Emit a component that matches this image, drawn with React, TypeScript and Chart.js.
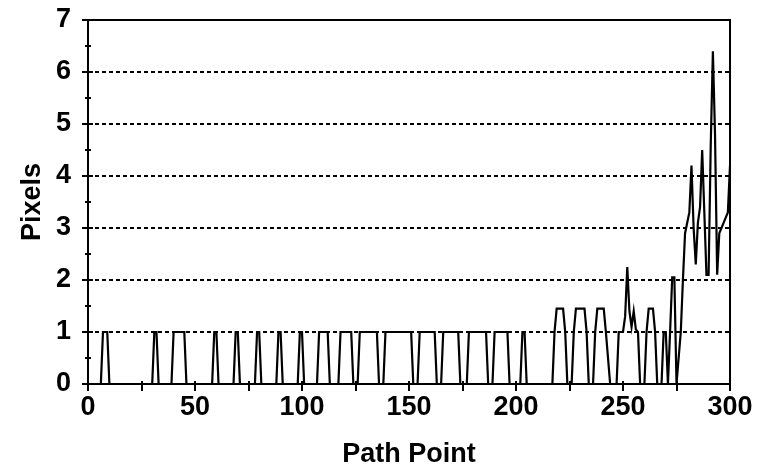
import React, { useEffect, useRef } from 'react';
import { Chart, registerables } from 'chart.js';

Chart.register(...registerables);

// Path point (x) and pixel deviation (y) vertices
const PATH_POINTS = [
  0, 6, 7, 9, 10,
  30, 31, 32, 33,
  39, 40, 45, 46,
  58, 59, 60, 61,
  68, 69, 70, 71,
  78, 79, 80, 81,
  88, 89, 90, 91,
  98, 99, 100, 101,
  107, 108, 112, 113,
  117, 118, 123, 124,
  126, 127, 135, 136,
  138, 139, 151, 152,
  154, 155, 162, 163,
  165, 166, 173, 174,
  177, 178, 186, 187,
  189, 190, 196, 197,
  202, 203, 204, 205,
  217, 218, 219, 222, 223, 224,
  226, 227, 228, 232, 233, 234,
  236, 237, 238, 241, 242, 244,
  247, 248, 250, 251, 252, 253, 254, 255, 256, 257, 258,
  260, 261, 262, 264, 265, 266,
  268, 269, 270, 271, 272, 273, 274, 275, 276, 277, 278, 279, 280,
  281, 282, 283, 284, 285, 286, 287, 288, 289, 290,
  291, 292, 293, 294, 295, 296, 297, 298, 299, 300,
];

const PIXELS = [
  0, 0, 1, 1, 0,
  0, 1, 1, 0,
  0, 1, 1, 0,
  0, 1, 1, 0,
  0, 1, 1, 0,
  0, 1, 1, 0,
  0, 1, 1, 0,
  0, 1, 1, 0,
  0, 1, 1, 0,
  0, 1, 1, 0,
  0, 1, 1, 0,
  0, 1, 1, 0,
  0, 1, 1, 0,
  0, 1, 1, 0,
  0, 1, 1, 0,
  0, 1, 1, 0,
  0, 1, 1, 0,
  0, 1, 1.45, 1.45, 1, 0,
  0, 1, 1.45, 1.45, 1, 0,
  0, 1, 1.45, 1.45, 1, 0,
  0, 1, 1, 1.3, 2.25, 1.4, 1.1, 1.4, 1.05, 1, 0,
  0, 1, 1.45, 1.45, 1, 0,
  0, 1, 1, 0, 1, 2.05, 2.05, 0, 0.5, 1, 2, 2.9, 3.1,
  3.3, 4.2, 3.0, 2.3, 3.1, 3.4, 4.5, 3.3, 2.1, 2.1,
  4.6, 6.4, 4.8, 2.1, 2.9, 3.0, 3.1, 3.2, 3.3, 4.2,
];

const X_MIN = 0;
const X_MAX = 300;
const X_LABEL_STEP = 50;
const X_MARKS = [0, 25, 50, 75, 100, 125, 150, 175, 200, 225, 250, 275, 300];
const Y_MIN = 0;
const Y_MAX = 7;
const Y_MARKS = [0, 0.5, 1, 1.5, 2, 2.5, 3, 3.5, 4, 4.5, 5, 5.5, 6, 6.5, 7];

const X_TITLE = 'Path Point';
const Y_TITLE = 'Pixels';

const FONT_FAMILY = '"Liberation Sans", Arial, Helvetica, sans-serif';

const framePlugin = {
  id: 'frame',
  afterDraw(chart: any) {
    const { ctx, chartArea: a, scales } = chart;
    const x = scales.x;
    const y = scales.y;
    ctx.save();
    ctx.strokeStyle = '#000';
    ctx.lineWidth = 2;
    ctx.strokeRect(a.left, a.top, a.right - a.left, a.bottom - a.top);
    ctx.beginPath();
    for (const v of Y_MARKS) {
      const py = Math.round(y.getPixelForValue(v));
      const major = Number.isInteger(v);
      ctx.moveTo(a.left - (major ? 6 : 3), py);
      ctx.lineTo(a.left + (major ? 5 : 3), py);
    }
    for (const v of X_MARKS) {
      const px = Math.round(x.getPixelForValue(v));
      ctx.moveTo(px, a.bottom - 3);
      ctx.lineTo(px, a.bottom + 7);
    }
    ctx.stroke();
    ctx.restore();
  },
};

export default function App() {
  const canvasRef = useRef<HTMLCanvasElement | null>(null);

  useEffect(() => {
    const canvas = canvasRef.current;
    if (!canvas) return;
    const points = PATH_POINTS.map((p, i) => ({ x: p, y: PIXELS[i] }));
    const chart = new Chart(canvas, {
      type: 'scatter',
      data: {
        datasets: [
          {
            data: points,
            showLine: true,
            borderColor: '#000',
            borderWidth: 2.2,
            pointRadius: 0,
            tension: 0,
            fill: false,
          },
        ],
      },
      options: {
        responsive: false,
        animation: false,
        layout: { padding: { left: 0, top: 20, right: 28, bottom: 0 } },
        plugins: {
          legend: { display: false },
          tooltip: { enabled: false },
        },
        scales: {
          x: {
            type: 'linear',
            min: X_MIN,
            max: X_MAX,
            afterFit: (s: any) => {
              s.height = 91;
              s.paddingLeft = 0;
              s.paddingRight = 0;
            },
            grid: { display: false, drawTicks: false },
            border: { display: false },
            ticks: {
              stepSize: X_LABEL_STEP,
              padding: 7,
              color: '#000',
              maxRotation: 0,
              font: { family: FONT_FAMILY, size: 27, weight: 'bold' },
            },
            title: {
              display: true,
              text: X_TITLE,
              color: '#000',
              padding: { top: 0, bottom: 4 },
              font: { family: FONT_FAMILY, size: 27, weight: 'bold' },
            },
          },
          y: {
            type: 'linear',
            min: Y_MIN,
            max: Y_MAX,
            afterFit: (s: any) => {
              s.width = 88;
              s.paddingTop = 0;
              s.paddingBottom = 0;
            },
            grid: {
              drawTicks: false,
              lineWidth: 2,
              color: (c: any) =>
                c.tick && (c.tick.value === Y_MIN || c.tick.value === Y_MAX) ? 'rgba(0,0,0,0)' : '#000',
            },
            border: { display: false, dash: [4, 3] },
            ticks: {
              stepSize: 1,
              padding: 17,
              color: '#000',
              font: { family: FONT_FAMILY, size: 27, weight: 'bold' },
            },
            title: {
              display: true,
              text: Y_TITLE,
              color: '#000',
              padding: { top: 16, bottom: 0 },
              font: { family: FONT_FAMILY, size: 27, weight: 'bold' },
            },
          },
        },
      },
      plugins: [framePlugin],
    });
    return () => chart.destroy();
  }, []);

  return (
    <div style={{ position: 'absolute', left: 0, top: 0, width: 758, height: 475, background: '#fff' }}>
      <canvas ref={canvasRef} width={758} height={475} />
    </div>
  );
}
